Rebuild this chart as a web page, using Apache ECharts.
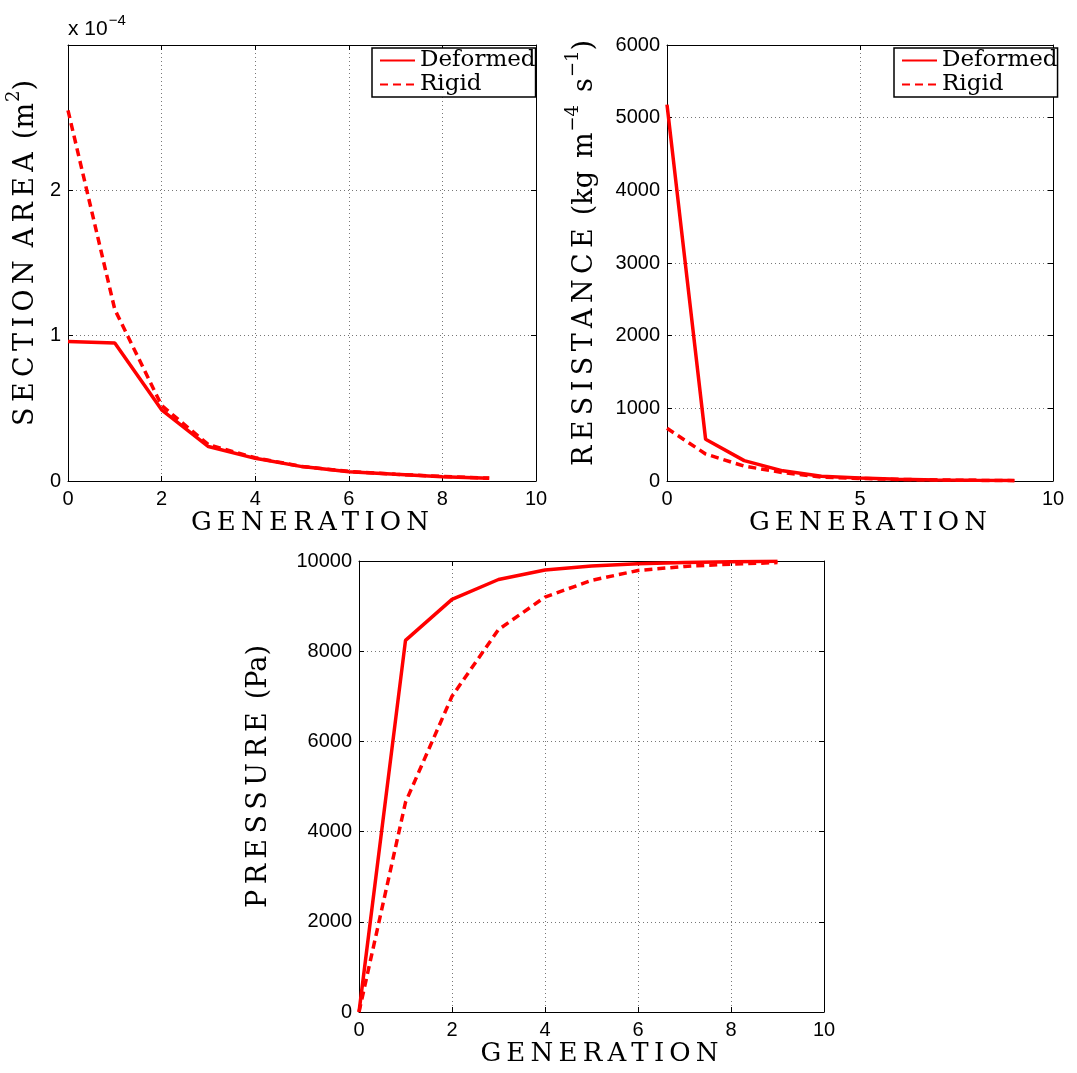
<!DOCTYPE html>
<html>
<head>
<meta charset="utf-8">
<script src="https://cdn.jsdelivr.net/npm/echarts@6/dist/echarts.min.js"></script>
<style>
  html, body { margin: 0; padding: 0; background: #fff; }
  #chart { width: 1077px; height: 1073px; }
</style>
</head>
<body>
<div id="chart"></div>
<script>
// ---- data ----
const generations = [0, 1, 2, 3, 4, 5, 6, 7, 8, 9];
const areaDeformed = [0.96e-4, 0.95e-4, 0.49e-4, 0.237e-4, 0.156e-4, 0.099e-4, 0.064e-4, 0.046e-4, 0.030e-4, 0.019e-4];
const areaRigid = [2.55e-4, 1.18e-4, 0.52e-4, 0.25e-4, 0.16e-4, 0.10e-4, 0.066e-4, 0.047e-4, 0.031e-4, 0.020e-4];
const resistanceDeformed = [5180, 575, 280, 140, 65, 40, 25, 15, 10, 6];
const resistanceRigid = [725, 372, 205, 115, 55, 35, 22, 14, 9, 5];
const pressureDeformed = [0, 8240, 9150, 9590, 9800, 9890, 9940, 9965, 9985, 9995];
const pressureRigid = [0, 4650, 7000, 8480, 9200, 9570, 9790, 9880, 9930, 9965];
const seriesNames = ['Deformed', 'Rigid'];
const xLabel = 'GENERATION';
// y-axis titles: [spaced capital words, then normal text / superscript parts]
const yLabels = [
  [['SECTION', 'AREA'], [['n', '(m'], ['s', '2'], ['n', ')']]],
  [['RESISTANCE'], [['n', '(kg'], ['w', ' '], ['n', 'm'], ['s', '−4'], ['w', ' '], ['n', 's'], ['s', '−1'], ['n', ')']]],
  [['PRESSURE'], [['n', '(Pa)']]]
];

// ---- helpers ----
const TS = '\u2009';
const spacedWord = w => w.split('').join(TS);
const pairs = ys => generations.map((g, i) => [g, ys[i]]);
const richName = ([words, parts]) =>
  words.map(w => '{n|' + spacedWord(w) + '}').join('{w| }') + '{w| }' +
  parts.map(([k, t]) => '{' + k + '|' + t + '}').join('');

const SERIF = 'DejaVu Serif';
const SANS = 'Liberation Sans';
const RED = '#ff0000';

const grids = [
  { left: 68, top: 45, width: 468, height: 436 },
  { left: 667, top: 45, width: 386, height: 436 },
  { left: 359, top: 561, width: 465, height: 451 }
];

const xCfg = [
  { min: 0, max: 10, interval: 2 },
  { min: 0, max: 10, interval: 5 },
  { min: 0, max: 10, interval: 2 }
];
const yCfg = [
  { min: 0, max: 3e-4, interval: 1e-4, fmt: v => (v > 2.5e-4 ? '' : String(Math.round(v * 1e4))), gap: 29 },
  { min: 0, max: 6000, interval: 1000, fmt: v => String(v), gap: 69 },
  { min: 0, max: 10000, interval: 2000, fmt: v => String(v), gap: 87 }
];

const axisLine = { show: true, onZero: false, lineStyle: { color: '#000', width: 1 } };
const tick = { show: true, inside: true, length: 5, lineStyle: { color: '#000', width: 1 } };
const split = { show: true, lineStyle: { color: '#777', width: 1, type: [1, 3] } };

const yRich = {
  n: { fontFamily: SERIF, fontSize: 27, color: '#000', lineHeight: 34, verticalAlign: 'bottom' },
  w: { fontFamily: SERIF, fontSize: 27, color: '#000', lineHeight: 34, verticalAlign: 'bottom', width: 13 },
  s: { fontFamily: SERIF, fontSize: 18, color: '#000', lineHeight: 34, verticalAlign: 'top', padding: [0, 0, 0, 1] }
};

const xAxes = [], yAxes = [];
grids.forEach((g, i) => {
  xAxes.push({
    type: 'value', gridIndex: i, position: 'bottom',
    min: xCfg[i].min, max: xCfg[i].max, interval: xCfg[i].interval,
    axisLine, axisTick: tick, splitLine: split,
    axisLabel: { color: '#000', fontFamily: SANS, fontSize: 20, margin: 8, formatter: v => String(v) },
    name: spacedWord(xLabel), nameLocation: 'middle', nameGap: 28,
    nameTextStyle: { fontFamily: SERIF, fontSize: 26, color: '#000', padding: [0, 0, 0, 16] }
  });
  yAxes.push({
    type: 'value', gridIndex: i, position: 'left',
    min: yCfg[i].min, max: yCfg[i].max, interval: yCfg[i].interval,
    axisLine, axisTick: tick, splitLine: split,
    axisLabel: { color: '#000', fontFamily: SANS, fontSize: 20, margin: 7, formatter: yCfg[i].fmt },
    name: richName(yLabels[i]), nameLocation: 'middle', nameGap: yCfg[i].gap,
    nameTextStyle: { fontFamily: SERIF, fontSize: 27, color: '#000', padding: [0, 0, 0, 20], rich: yRich }
  });
});
// mirror axes (top / right frame with inward ticks)
grids.forEach((g, i) => {
  xAxes.push({
    type: 'value', gridIndex: i, position: 'top',
    min: xCfg[i].min, max: xCfg[i].max, interval: xCfg[i].interval,
    axisLine, axisTick: tick, splitLine: { show: false }, axisLabel: { show: false }
  });
  yAxes.push({
    type: 'value', gridIndex: i, position: 'right',
    min: yCfg[i].min, max: yCfg[i].max, interval: yCfg[i].interval,
    axisLine, axisTick: tick, splitLine: { show: false }, axisLabel: { show: false }
  });
});

const dataSets = [
  [areaDeformed, areaRigid],
  [resistanceDeformed, resistanceRigid],
  [pressureDeformed, pressureRigid]
];
const series = [];
dataSets.forEach((pair, i) => {
  pair.forEach((ys, k) => {
    series.push({
      type: 'line', name: seriesNames[k], xAxisIndex: i, yAxisIndex: i,
      data: pairs(ys), symbol: 'none', smooth: false,
      lineStyle: { color: RED, width: 3.5, type: k === 0 ? 'solid' : [8, 5] },
      itemStyle: { color: RED },
      z: 3
    });
  });
});

const legendBase = {
  orient: 'vertical', top: 48, data: seriesNames, selectedMode: false,
  itemWidth: 35, itemHeight: 14, itemGap: 1,
  padding: [1, 0, 1, 7],
  borderColor: '#000', borderWidth: 1.5, backgroundColor: '#fff',
  itemStyle: { opacity: 0, borderWidth: 0 },
  textStyle: { fontFamily: SERIF, fontSize: 23, color: '#000', lineHeight: 20 }
};

const option = {
  animation: false,
  backgroundColor: '#fff',
  grid: grids.map(g => Object.assign({ containLabel: false }, g)),
  xAxis: xAxes,
  yAxis: yAxes,
  legend: [
    Object.assign({}, legendBase, { left: 372 }),
    Object.assign({}, legendBase, { left: 894 })
  ],
  graphic: [{
    type: 'text', left: 68, top: 13,
    style: {
      text: '{a|x 10}{b|−4}',
      rich: {
        a: { fontFamily: SANS, fontSize: 21, fill: '#000', verticalAlign: 'bottom', lineHeight: 27 },
        b: { fontFamily: SANS, fontSize: 15, fill: '#000', verticalAlign: 'top', lineHeight: 27, padding: [0, 0, 12, 1] }
      }
    }
  }],
  series
};

const chart = echarts.init(document.getElementById('chart'), null, { renderer: 'canvas' });
chart.setOption(option);
</script>
</body>
</html>
